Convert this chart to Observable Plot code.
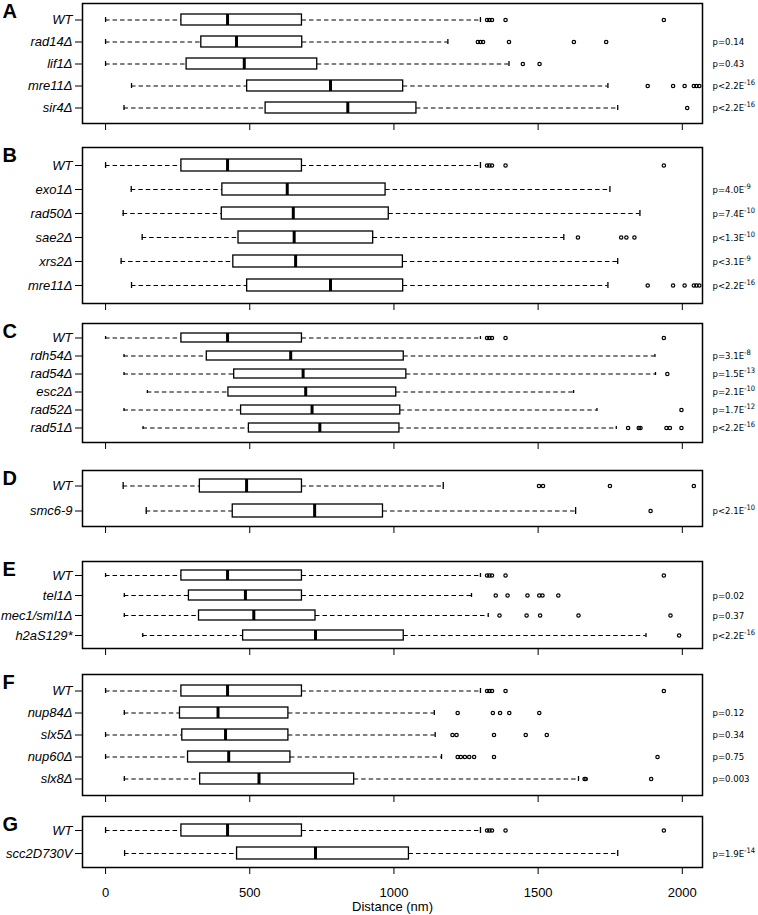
<!DOCTYPE html>
<html><head><meta charset="utf-8">
<script src="https://cdn.jsdelivr.net/npm/d3@7"></script>
<script src="https://cdn.jsdelivr.net/npm/@observablehq/plot@0.6"></script>
<style>
body{margin:0;background:#fff;}
#chart{position:relative;width:758px;height:915px;overflow:hidden;}
#chart svg{position:absolute;left:0;}
</style></head><body><div id="chart"></div>
<script>
// ---- data (in nm) ----
const xTicks = [0, 500, 1000, 1500, 2000];
const xLabel = "Distance (nm)";
const panelLetters = ["A", "B", "C", "D", "E", "F", "G"];

const wt = {name: "WT", lo: 0, q1: 263, med: 423, q3: 681, hi: 1300, out: [1323, 1331, 1340, 1387, 1936], p: ""};
const mre11 = {name: "mre11Δ", lo: 90, q1: 491, med: 780, q3: 1032, hi: 1742, out: [1880, 1968, 2008, 2040, 2049, 2059], p: "p<2.2E-16"};

const panelA = [
  wt,
  {name: "rad14Δ", lo: 0, q1: 332, med: 454, q3: 682, hi: 1187, out: [1291, 1300, 1309, 1399, 1624, 1736], p: "p=0.14"},
  {name: "lif1Δ", lo: 0, q1: 281, med: 481, q3: 734, hi: 1399, out: [1447, 1505], p: "p=0.43"},
  mre11,
  {name: "sir4Δ", lo: 64, q1: 555, med: 840, q3: 1078, hi: 1776, out: [2017], p: "p<2.2E-16"}
];
const panelB = [
  wt,
  {name: "exo1Δ", lo: 89, q1: 405, med: 630, q3: 971, hi: 1749, out: [], p: "p=4.0E-9"},
  {name: "rad50Δ", lo: 61, q1: 403, med: 651, q3: 982, hi: 1853, out: [], p: "p=7.4E-10"},
  {name: "sae2Δ", lo: 127, q1: 461, med: 654, q3: 928, hi: 1589, out: [1638, 1788, 1806, 1834], p: "p<1.3E-10"},
  {name: "xrs2Δ", lo: 54, q1: 443, med: 659, q3: 1031, hi: 1776, out: [], p: "p<3.1E-9"},
  mre11
];
const panelC = [
  wt,
  {name: "rdh54Δ", lo: 64, q1: 351, med: 642, q3: 1034, hi: 1905, out: [], p: "p=3.1E-8"},
  {name: "rad54Δ", lo: 64, q1: 446, med: 685, q3: 1043, hi: 1907, out: [1948], p: "p=1.5E-13"},
  {name: "esc2Δ", lo: 145, q1: 426, med: 694, q3: 1008, hi: 1623, out: [], p: "p=2.1E-10"},
  {name: "rad52Δ", lo: 64, q1: 470, med: 716, q3: 1022, hi: 1704, out: [1997], p: "p=1.7E-12"},
  {name: "rad51Δ", lo: 130, q1: 497, med: 743, q3: 1019, hi: 1771, out: [1812, 1849, 1855, 1945, 1957, 1997], p: "p<2.2E-16"}
];
const panelD = [
  {name: "WT", lo: 61, q1: 327, med: 489, q3: 681, hi: 1171, out: [1503, 1517, 1749, 2040], p: ""},
  {name: "smc6-9", lo: 141, q1: 441, med: 725, q3: 962, hi: 1630, out: [1890], p: "p<2.1E-10"}
];
const panelE = [
  wt,
  {name: "tel1Δ", lo: 65, q1: 289, med: 485, q3: 681, hi: 1269, out: [1353, 1394, 1463, 1504, 1515, 1570], p: "p=0.02"},
  {name: "mec1/sml1Δ", lo: 65, q1: 324, med: 514, q3: 728, hi: 1327, out: [1366, 1460, 1507, 1640, 1959], p: "p=0.37"},
  {name: "h2aS129*", lo: 129, q1: 477, med: 728, q3: 1034, hi: 1874, out: [1989], p: "p<2.2E-16"}
];
const panelF = [
  wt,
  {name: "nup84Δ", lo: 65, q1: 258, med: 390, q3: 634, hi: 1140, out: [1221, 1343, 1368, 1400, 1504], p: "p=0.12"},
  {name: "slx5Δ", lo: 0, q1: 266, med: 416, q3: 634, hi: 1143, out: [1203, 1217, 1347, 1457, 1530], p: "p=0.34"},
  {name: "nup60Δ", lo: 0, q1: 286, med: 427, q3: 641, hi: 1165, out: [1221, 1232, 1246, 1261, 1278, 1347, 1914], p: "p=0.75"},
  {name: "slx8Δ", lo: 65, q1: 328, med: 532, q3: 862, hi: 1640, out: [1661, 1665, 1892], p: "p=0.003"}
];
const panelG = [
  wt,
  {name: "scc2D730V", lo: 66, q1: 456, med: 728, q3: 1052, hi: 1776, out: [], p: "p=1.9E-14"}
];

// ---- layout ----
const panels = [panelA, panelB, panelC, panelD, panelE, panelF, panelG];
const frameTops = [3, 147, 323, 470, 561, 674, 816];
const frameBottoms = [123, 303, 442, 526, 648, 795, 867];
const W = 758, H = 915;
const xDomain = [-80, 2070];
const labelFont = "'Liberation Sans', Arial, sans-serif";
const pFont = "'DejaVu Sans Condensed', 'Liberation Sans Narrow', sans-serif";

const chart = document.getElementById("chart");

panels.forEach((rows, i) => {
  const n = rows.length;
  const last = i === panels.length - 1;
  const top = frameTops[i], bottom = frameBottoms[i];
  const mt = 3;
  const mb = last ? H - bottom : 10;
  const outs = rows.flatMap(r => r.out.map(v => ({name: r.name, v})));
  const dash = "4.5,3";
  const svg = Plot.plot({
    width: W,
    height: mt + (bottom - top) + mb,
    marginLeft: 82, marginRight: 56, marginTop: mt, marginBottom: mb,
    style: {fontFamily: labelFont, fontSize: "13px", background: "transparent", overflow: "visible", color: "black"},
    x: {domain: xDomain},
    y: {type: "band", domain: rows.map(r => r.name), paddingInner: 0.5, paddingOuter: 0.25 + 0.04 * n, align: 0.5},
    marks: [
      Plot.ruleY(rows, {y: "name", x1: "lo", x2: "q1", stroke: "black", strokeWidth: 1.1, strokeDasharray: dash}),
      Plot.ruleY(rows, {y: "name", x1: "q3", x2: "hi", stroke: "black", strokeWidth: 1.1, strokeDasharray: dash}),
      Plot.tickX(rows, {y: "name", x: "lo", stroke: "black", strokeWidth: 1.3, insetTop: 3, insetBottom: 3}),
      Plot.tickX(rows, {y: "name", x: "hi", stroke: "black", strokeWidth: 1.3, insetTop: 3, insetBottom: 3}),
      Plot.barX(rows, {y: "name", x1: "q1", x2: "q3", fill: "white", stroke: "black", strokeWidth: 1.3}),
      Plot.tickX(rows, {y: "name", x: "med", stroke: "black", strokeWidth: 3}),
      Plot.dot(outs, {y: "name", x: "v", r: 1.7, stroke: "black", strokeWidth: 1.2, fill: "none"}),
      Plot.text(rows.filter(r => r.p), {y: "name", text: "p", frameAnchor: "right", dx: 10, textAnchor: "start",
        fontFamily: pFont, fontSize: 9.5, fill: "black"}),
      Plot.text([panelLetters[i]], {text: d => d, frameAnchor: "top-left", dx: -80, dy: 0, lineAnchor: "top",
        textAnchor: "start", fontWeight: "bold", fontSize: 20, fill: "black", fontFamily: labelFont}),
      Plot.frame({stroke: "black", strokeWidth: 1.5}),
      Plot.axisX({ticks: xTicks, tickSize: 7, tickPadding: 13, tickFormat: last ? (d => String(d)) : (() => ""),
        label: last ? xLabel : null, labelAnchor: "center", labelArrow: "none", labelOffset: 43, fontSize: 13}),
      Plot.axisY({tickSize: 7, tickPadding: 3, label: null, fontStyle: "italic", fontSize: 13})
    ]
  });
  svg.style.top = (top - mt) + "px";
  // superscript exponents in p-values
  svg.querySelectorAll("text").forEach(t => {
    const s = t.textContent;
    if (!/^p[=<]/.test(s)) return;
    const k = s.indexOf("E");
    if (k < 0) return;
    while (t.firstChild) t.removeChild(t.firstChild);
    t.appendChild(document.createTextNode(s.slice(0, k + 1)));
    const sup = document.createElementNS("http://www.w3.org/2000/svg", "tspan");
    sup.setAttribute("dy", "-4");
    sup.setAttribute("font-size", "7.5");
    sup.textContent = s.slice(k + 1);
    t.appendChild(sup);
  });
  chart.appendChild(svg);
});
</script></body></html>
